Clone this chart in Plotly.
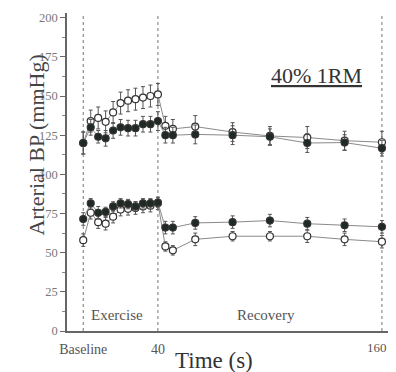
import plotly.graph_objects as go

time_s = [0, 4, 8, 12, 16, 20, 24, 28, 32, 36, 40, 44, 48, 60, 80, 100, 120, 140, 160]
sys_open = [120, 134, 136, 133.5, 139.5, 145.5, 147, 148, 149, 150, 151, 131, 129, 130.5, 127, 124.5, 123.5, 121.5, 120.5]
sys_filled = [120, 130, 124, 123, 128, 130, 129.5, 129.5, 132, 132, 134, 125, 125, 125.5, 125, 124, 120, 120.3, 116.7]
dia_open = [58, 75.5, 69.5, 68.5, 73, 77.5, 78, 78.5, 79.5, 80, 81.5, 54, 51.5, 58.5, 60.5, 60.5, 60.5, 58.5, 57]
dia_filled = [71.5, 81.5, 75.5, 76, 79.5, 81.5, 81, 79.5, 81.5, 81.5, 82, 66, 66, 69, 69.5, 70.5, 68.5, 67.5, 66.5]
sys_open_err = [7, 7, 7, 7, 7, 7, 7, 7, 7, 7, 7, 6, 6, 7, 6, 6, 7, 6, 7]
sys_filled_err = [7, 5, 4, 5, 5, 5, 5, 5, 5, 5, 6, 5, 5, 6, 6, 5, 6, 5, 5]
dia_open_err = [4, 4, 4, 4, 4, 4, 4, 4, 4, 4, 4, 3, 3, 4, 3, 3, 4, 4, 4]
dia_filled_err = [4, 3, 4, 3, 3, 3, 3, 3, 3, 3, 3, 4, 4, 4, 4, 4, 4, 4, 4]

y_ticks = [0, 25, 50, 75, 100, 125, 150, 175, 200]
x_tick_vals = [0, 40]
x_tick_text = ["Baseline", "40"]
end_tick_val = 160
end_tick_text = "160"
phase_lines = [0, 40, 160]

FONT = "Liberation Serif, Times New Roman, serif"
TXT = "#444"

fig = go.Figure()

def add_series(y, err, filled):
    fig.add_trace(go.Scatter(
        x=time_s, y=y, mode="lines+markers",
        line=dict(color="#8a8a8a", width=1),
        marker=dict(symbol="circle", size=7,
                    color="#1f2a24" if filled else "white",
                    line=dict(color="#333", width=1.2)),
        error_y=dict(type="data", array=err, color="#555", thickness=1, width=2),
        showlegend=False,
    ))

add_series(sys_open, sys_open_err, False)
add_series(sys_filled, sys_filled_err, True)
add_series(dia_open, dia_open_err, False)
add_series(dia_filled, dia_filled_err, True)

for xv in phase_lines:
    fig.add_shape(type="line", x0=xv, x1=xv, y0=0, y1=1, yref="paper",
                  line=dict(color="#777", width=1, dash="dot"), layer="below")

fig.add_annotation(x=18, y=10, text="Exercise", showarrow=False,
                   font=dict(family=FONT, size=15, color="#555"))
fig.add_annotation(x=98, y=10, text="Recovery", showarrow=False,
                   font=dict(family=FONT, size=15, color="#555"))
fig.add_annotation(x=125, y=163, text="<u>40% 1RM</u>", showarrow=False,
                   font=dict(family=FONT, size=22, color="#333"))
fig.add_annotation(x=end_tick_val, xshift=-5, y=-0.053, yref="paper",
                   text=end_tick_text, showarrow=False, yanchor="middle",
                   font=dict(family=FONT, size=13, color="#555"))
fig.add_annotation(x=0.448, y=-0.092, xref="paper", yref="paper", text="Time (s)",
                   showarrow=False, yanchor="middle",
                   font=dict(family=FONT, size=23, color="#333"))
fig.add_annotation(x=-0.137, y=0.585, xref="paper", yref="paper",
                   text="Arterial BP (mmHg)", textangle=-90, showarrow=False,
                   font=dict(family=FONT, size=22, color="#444"))

fig.update_layout(
    width=388, height=364,
    margin=dict(l=59, r=1, t=5, b=41),
    paper_bgcolor="white", plot_bgcolor="white",
    font=dict(family=FONT, color=TXT),
    xaxis=dict(range=[-8.7, 167], tickvals=x_tick_vals, ticktext=x_tick_text,
               showgrid=False, zeroline=False, showline=True,
               linecolor="#666", linewidth=1.5, ticks="",
               ticklabelstandoff=4,
               tickfont=dict(family=FONT, size=14, color="#555")),
    yaxis=dict(range=[0, 203], tickvals=y_ticks, showgrid=False, zeroline=False,
               showline=True, linecolor="#666", linewidth=1.5,
               ticks="outside", ticklen=5, tickcolor="#666",
               minor=dict(ticks="outside", ticklen=3, tickcolor="#888", dtick=12.5),
               tickfont=dict(family=FONT, size=12.5, color="#777")),
)

fig.write_html("out.html")
